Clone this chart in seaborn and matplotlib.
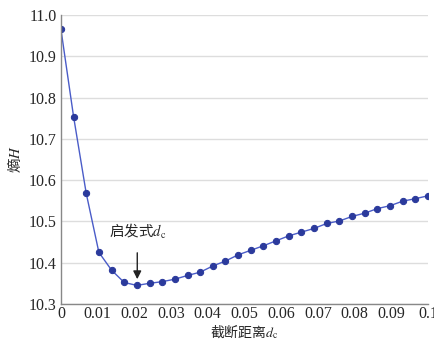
import numpy as np
import pandas as pd
import seaborn as sns
import matplotlib.pyplot as plt

# 截断距离 dc 与 熵H
dc = np.linspace(0, 0.1, 30)
entropy = [10.966, 10.754, 10.568, 10.425, 10.382, 10.352, 10.345, 10.350,
           10.354, 10.360, 10.369, 10.377, 10.392, 10.404, 10.419, 10.430,
           10.441, 10.453, 10.465, 10.474, 10.483, 10.495, 10.501, 10.512,
           10.520, 10.531, 10.538, 10.549, 10.555, 10.562]
xticks = [0, 0.01, 0.02, 0.03, 0.04, 0.05, 0.06, 0.07, 0.08, 0.09, 0.1]
xtick_labels = ["0", "0.01", "0.02", "0.03", "0.04", "0.05", "0.06", "0.07", "0.08", "0.09", "0.1"]
yticks = [10.3, 10.4, 10.5, 10.6, 10.7, 10.8, 10.9, 11.0]

df = pd.DataFrame({"dc": dc, "H": entropy})

sns.set_style("whitegrid")
plt.rcParams['font.family'] = ['Liberation Serif', 'Noto Sans CJK SC']
plt.rcParams['mathtext.fontset'] = 'stix'

fig = plt.figure(figsize=(4.35, 3.4), dpi=100)
ax = fig.add_axes([0.140, 0.106, 0.844, 0.850])

sns.lineplot(data=df, x="dc", y="H", ax=ax, color="#4a5cc8", linewidth=1.0,
             marker="o", markersize=4.5, markerfacecolor="#2b3a9c",
             markeredgecolor="#2b3a9c")

ax.set_xlim(0, 0.1)
ax.set_ylim(10.3, 11.0)
ax.set_xticks(xticks)
ax.set_xticklabels(xtick_labels)
ax.set_yticks(yticks)
ax.set_yticklabels([f"{v:.1f}" for v in yticks])
ax.tick_params(labelsize=11.5, direction="in", length=3, color="#888888", pad=3)
ax.tick_params(axis="x", pad=1.5)
ax.xaxis.grid(False)
ax.yaxis.grid(True, color="#dddddd", linewidth=1.0)
for s in ["top", "right"]:
    ax.spines[s].set_visible(False)
for s in ["left", "bottom"]:
    ax.spines[s].set_visible(True)
    ax.spines[s].set_color("#888888")
    ax.spines[s].set_linewidth(1.0)

# 中文部分用 Noto Sans CJK, 数学部分用 stix
cjk = "Noto Sans CJK SC"
ax.set_xlabel("截断距离$d_{\\mathrm{c}}$", fontsize=10, labelpad=0, family=cjk)
ax.set_ylabel("熵$H$", fontsize=10.5, labelpad=4, family=cjk)

ax.annotate("启发式$d_{\\mathrm{c}}$", xy=(0.0208, 10.360), xytext=(0.0208, 10.452),
            ha="center", va="bottom", fontsize=10.5, family=cjk,
            arrowprops=dict(arrowstyle="-|>", color="#222222", lw=1.0,
                            mutation_scale=12, shrinkA=6, shrinkB=0))

fig.savefig("out.png", dpi=100)
